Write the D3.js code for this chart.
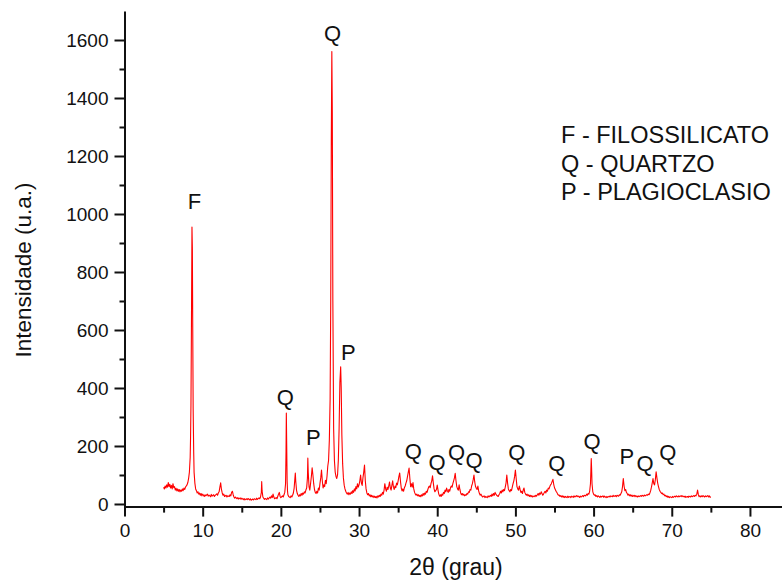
<!DOCTYPE html>
<html>
<head>
<meta charset="utf-8">
<script src="https://cdn.jsdelivr.net/npm/d3@7"></script>
<style>
  body { margin: 0; background: #fff; }
  svg text { font-family: "Liberation Sans", Arial, sans-serif; fill: #111; }
</style>
</head>
<body>
<div id="chart"></div>
<script>
// XRD scan: [2theta (deg), intensity (u.a.)]
var scan = [
  [5.0,58],[5.1,52],[5.2,62],[5.3,55],[5.4,66],[5.5,58],[5.6,74],[5.7,60],[5.8,68],[5.9,55],[6.0,64],[6.1,52],[6.2,70],[6.3,56],[6.4,60],
  [6.5,48],[6.6,54],[6.7,45],[6.8,52],[6.9,44],[7.0,50],[7.1,42],[7.2,48],[7.3,44],[7.4,52],[7.5,46],[7.6,55],[7.7,50],[7.8,58],[7.9,62],
  [8.0,66],[8.1,74],[8.2,88],[8.3,110],[8.4,160],[8.45,230],[8.5,340],[8.55,560],[8.6,800],[8.63,955],[8.68,880],[8.73,600],[8.78,330],[8.85,180],[8.9,110],
  [9.0,72],[9.1,52],[9.2,46],[9.3,38],[9.4,42],[9.5,34],[9.6,38],[9.7,30],[9.8,36],[9.9,28],[10.0,34],[10.2,26],[10.3,32],[10.4,28],[10.6,34],
  [10.7,27],[10.8,31],[11.0,25],[11.1,33],[11.2,27],[11.4,32],[11.5,26],[11.6,30],[11.8,35],[11.9,30],[12.0,38],[12.1,42],[12.2,58],[12.3,73],[12.4,50],
  [12.5,38],[12.6,30],[12.7,34],[12.8,26],[13.0,30],[13.1,24],[13.2,28],[13.4,26],[13.5,32],[13.6,28],[13.7,40],[13.8,44],[13.9,32],[14.0,24],[14.1,20],
  [14.2,24],[14.4,18],[14.5,22],[14.6,17],[14.8,21],[14.9,16],[15.0,20],[15.2,15],[15.3,19],[15.4,14],[15.6,18],[15.7,15],[15.8,19],[16.0,14],[16.1,18],
  [16.2,13],[16.4,17],[16.5,14],[16.6,18],[16.8,15],[16.9,20],[17.0,16],[17.2,21],[17.3,18],[17.4,24],[17.5,40],[17.55,77],[17.6,45],[17.7,24],[17.8,20],
  [17.9,16],[18.0,19],[18.2,15],[18.3,21],[18.4,17],[18.6,24],[18.7,20],[18.8,28],[18.9,22],[19.0,34],[19.1,24],[19.2,18],[19.4,22],[19.5,18],[19.6,26],
  [19.7,34],[19.8,40],[19.9,26],[20.0,22],[20.2,28],[20.3,24],[20.4,32],[20.5,40],[20.6,70],[20.66,180],[20.7,314],[20.74,220],[20.8,80],[20.85,45],[20.9,32],
  [21.0,26],[21.2,22],[21.3,28],[21.4,24],[21.5,30],[21.6,38],[21.7,55],[21.8,90],[21.85,107],[21.9,80],[22.0,48],[22.1,36],[22.2,30],[22.3,26],[22.4,32],
  [22.5,28],[22.6,36],[22.7,30],[22.8,38],[22.9,34],[23.0,42],[23.1,38],[23.2,48],[23.3,55],[23.4,90],[23.45,158],[23.5,110],[23.6,60],[23.7,48],[23.8,70],
  [23.9,95],[24.0,125],[24.1,100],[24.2,70],[24.3,50],[24.4,40],[24.5,36],[24.6,44],[24.7,38],[24.8,55],[24.9,48],[25.0,70],[25.1,90],[25.2,117],[25.3,80],
  [25.4,55],[25.5,66],[25.6,60],[25.7,82],[25.8,70],[25.9,95],[26.0,130],[26.1,150],[26.2,220],[26.3,360],[26.38,700],[26.45,1250],[26.52,1560],[26.58,1350],[26.65,700],
  [26.75,260],[26.85,150],[26.95,110],[27.05,95],[27.15,88],[27.25,100],[27.35,150],[27.45,260],[27.55,420],[27.65,473],[27.72,400],[27.8,240],[27.9,140],[28.0,90],[28.1,65],
  [28.2,52],[28.3,44],[28.4,38],[28.5,34],[28.6,40],[28.7,32],[28.8,38],[28.9,34],[29.0,42],[29.1,36],[29.2,46],[29.3,40],[29.4,52],[29.5,45],[29.6,60],
  [29.7,52],[29.8,70],[29.9,58],[30.0,66],[30.1,80],[30.2,100],[30.3,72],[30.4,64],[30.5,90],[30.6,110],[30.7,134],[30.8,80],[30.9,52],[31.0,38],[31.1,32],
  [31.2,36],[31.3,28],[31.4,32],[31.5,25],[31.6,30],[31.7,24],[31.8,28],[31.9,22],[32.0,27],[32.1,22],[32.2,26],[32.3,21],[32.4,28],[32.5,24],[32.6,30],
  [32.7,26],[32.8,34],[32.9,30],[33.0,40],[33.1,34],[33.2,48],[33.3,70],[33.4,52],[33.5,44],[33.6,58],[33.7,50],[33.8,62],[33.9,76],[34.0,55],[34.1,48],
  [34.2,64],[34.3,80],[34.4,58],[34.5,50],[34.6,62],[34.7,56],[34.8,72],[34.9,66],[35.0,80],[35.1,95],[35.2,107],[35.3,78],[35.4,55],[35.5,45],[35.6,52],
  [35.7,44],[35.8,56],[35.9,62],[36.0,72],[36.1,80],[36.2,95],[36.3,110],[36.4,124],[36.5,88],[36.6,60],[36.7,70],[36.8,58],[36.9,74],[37.0,52],[37.1,40],
  [37.2,34],[37.3,30],[37.4,34],[37.5,28],[37.6,32],[37.7,26],[37.8,30],[37.9,25],[38.0,32],[38.1,28],[38.2,36],[38.3,30],[38.4,38],[38.5,34],[38.6,44],
  [38.7,40],[38.8,50],[38.9,58],[39.0,62],[39.1,56],[39.2,70],[39.3,80],[39.4,97],[39.5,72],[39.6,52],[39.7,42],[39.8,46],[39.9,50],[40.0,65],[40.1,48],
  [40.2,34],[40.3,27],[40.4,32],[40.5,26],[40.6,34],[40.7,30],[40.8,40],[40.9,36],[41.0,48],[41.1,42],[41.2,55],[41.3,46],[41.4,40],[41.5,50],[41.6,44],
  [41.7,56],[41.8,62],[41.9,58],[42.0,70],[42.1,80],[42.2,90],[42.3,106],[42.4,80],[42.5,60],[42.6,52],[42.7,48],[42.8,66],[42.9,50],[43.0,38],[43.1,32],
  [43.2,36],[43.3,30],[43.4,34],[43.5,28],[43.6,32],[43.7,30],[43.8,36],[43.9,34],[44.0,42],[44.1,40],[44.2,50],[44.3,48],[44.4,62],[44.5,70],[44.6,84],
  [44.7,100],[44.8,76],[44.9,60],[45.0,54],[45.1,50],[45.2,62],[45.3,45],[45.4,36],[45.5,30],[45.6,34],[45.7,28],[45.8,24],[46.0,28],[46.1,22],[46.2,26],
  [46.4,22],[46.5,28],[46.6,24],[46.8,30],[46.9,26],[47.0,34],[47.1,28],[47.2,36],[47.3,30],[47.4,40],[47.5,34],[47.6,30],[47.8,26],[47.9,32],[48.0,36],
  [48.1,44],[48.2,38],[48.3,48],[48.4,42],[48.5,50],[48.6,46],[48.7,58],[48.8,72],[48.9,100],[49.0,72],[49.1,52],[49.2,46],[49.3,42],[49.4,50],[49.5,46],
  [49.6,58],[49.7,70],[49.8,80],[49.9,95],[50.0,117],[50.1,88],[50.2,60],[50.3,52],[50.4,48],[50.5,62],[50.6,50],[50.7,40],[50.8,44],[50.9,36],[51.0,48],
  [51.1,55],[51.2,40],[51.3,34],[51.4,30],[51.5,34],[51.6,28],[51.7,32],[51.8,26],[51.9,30],[52.0,25],[52.1,29],[52.2,24],[52.4,28],[52.5,25],[52.6,30],
  [52.7,27],[52.8,32],[52.9,36],[53.0,30],[53.1,38],[53.2,34],[53.3,42],[53.4,36],[53.5,30],[53.6,34],[53.7,40],[53.8,44],[53.9,38],[54.0,48],[54.1,44],
  [54.2,55],[54.3,52],[54.4,60],[54.5,66],[54.6,70],[54.7,78],[54.8,85],[54.9,68],[55.0,56],[55.1,50],[55.2,44],[55.3,40],[55.4,34],[55.5,30],[55.6,31],
  [55.7,26],[55.8,29],[55.9,24],[56.0,28],[56.1,23],[56.2,27],[56.3,22],[56.4,26],[56.6,22],[56.7,27],[56.8,23],[57.0,26],[57.1,22],[57.2,27],[57.4,23],
  [57.5,28],[57.6,24],[57.8,29],[57.9,25],[58.0,28],[58.2,23],[58.3,27],[58.4,24],[58.6,29],[58.7,25],[58.8,30],[59.0,28],[59.1,34],[59.2,30],[59.3,36],
  [59.4,34],[59.5,44],[59.6,70],[59.65,110],[59.7,157],[59.75,120],[59.8,70],[59.9,42],[60.0,34],[60.1,30],[60.2,32],[60.3,26],[60.4,29],[60.5,24],[60.6,28],
  [60.8,23],[60.9,27],[61.0,24],[61.2,28],[61.3,23],[61.4,27],[61.6,22],[61.7,26],[61.8,23],[62.0,27],[62.1,24],[62.2,28],[62.4,25],[62.5,30],[62.6,26],
  [62.8,29],[62.9,25],[63.0,30],[63.2,27],[63.3,32],[63.4,30],[63.5,36],[63.6,42],[63.7,60],[63.8,88],[63.9,62],[64.0,46],[64.1,50],[64.2,40],[64.3,36],
  [64.4,30],[64.5,34],[64.6,28],[64.7,32],[64.8,27],[64.9,31],[65.0,26],[65.2,30],[65.3,25],[65.4,29],[65.6,24],[65.7,28],[65.8,25],[66.0,29],[66.1,26],
  [66.2,30],[66.4,27],[66.5,31],[66.6,28],[66.8,32],[66.9,30],[67.0,34],[67.1,32],[67.2,38],[67.3,46],[67.4,58],[67.5,72],[67.6,88],[67.7,70],[67.8,66],
  [67.9,84],[68.0,111],[68.1,90],[68.2,72],[68.3,60],[68.4,50],[68.5,44],[68.6,40],[68.7,36],[68.8,38],[68.9,32],[69.0,34],[69.1,28],[69.2,30],[69.3,25],
  [69.4,28],[69.5,23],[69.6,26],[69.7,22],[69.8,25],[70.0,22],[70.1,26],[70.2,23],[70.4,27],[70.5,24],[70.6,28],[70.8,24],[70.9,28],[71.0,25],[71.2,29],
  [71.3,25],[71.4,28],[71.6,24],[71.7,27],[71.8,23],[72.0,26],[72.1,23],[72.2,27],[72.4,24],[72.5,28],[72.6,25],[72.8,29],[72.9,26],[73.0,30],[73.1,28],
  [73.2,34],[73.3,48],[73.4,32],[73.5,25],[73.6,28],[73.7,24],[73.8,28],[73.9,25],[74.0,29],[74.2,24],[74.3,28],[74.4,25],[74.6,29],[74.7,24],[74.8,28],
  [74.9,23],[75.0,25]
];

// phase labels over the peaks (anchor in data units)
var labelText = ["F", "Q", "Q", "P", "P", "Q", "Q", "Q", "Q", "Q", "Q", "Q", "P", "Q", "Q"];
var labelAngle = [8.95, 26.62, 20.56, 24.14, 28.62, 36.93, 39.99, 42.48, 44.72, 50.19, 55.31, 59.81, 64.26, 66.60, 69.48];
var labelIntensity = [1044, 1624, 370, 232, 525, 183, 144, 178, 152, 178, 140, 218, 166, 140, 180];

var legendLines = ["F - FILOSSILICATO", "Q - QUARTZO", "P - PLAGIOCLASIO"];

var xTicks = [0, 10, 20, 30, 40, 50, 60, 70, 80];
var xMinorTicks = [5, 15, 25, 35, 45, 55, 65, 75];
var yTicks = [0, 200, 400, 600, 800, 1000, 1200, 1400, 1600];
var yMinorTicks = [100, 300, 500, 700, 900, 1100, 1300, 1500];

var width = 782;
var height = 586;

var x = d3.scaleLinear().domain([0, 84.1]).range([124.5, 782]);
var y = d3.scaleLinear().domain([-9, 1700]).range([506.6, 11]);

var svg = d3.select("#chart").append("svg")
  .attr("width", width)
  .attr("height", height);

// scan line
var line = d3.line()
  .x(function (d) { return x(d[0]); })
  .y(function (d) { return y(d[1]); });

svg.append("path")
  .datum(scan)
  .attr("fill", "none")
  .attr("stroke", "#ff0000")
  .attr("stroke-width", 1.1)
  .attr("stroke-linejoin", "round")
  .attr("d", line);

// axes
var xAxisY = y.range()[0];
var yAxisX = x.range()[0];

svg.append("g")
  .attr("class", "x-minor")
  .attr("transform", "translate(0," + xAxisY + ")")
  .call(d3.axisBottom(x).tickValues(xMinorTicks).tickSize(6).tickFormat(""));

svg.append("g")
  .attr("class", "x-axis")
  .attr("transform", "translate(0," + xAxisY + ")")
  .call(d3.axisBottom(x).tickValues(xTicks).tickSize(10).tickSizeOuter(0).tickPadding(7).tickFormat(d3.format("d")));

svg.append("g")
  .attr("class", "y-minor")
  .attr("transform", "translate(" + yAxisX + ",0)")
  .call(d3.axisLeft(y).tickValues(yMinorTicks).tickSize(5).tickFormat(""));

svg.append("g")
  .attr("class", "y-axis")
  .attr("transform", "translate(" + yAxisX + ",0)")
  .call(d3.axisLeft(y).tickValues(yTicks).tickSize(10).tickSizeOuter(0).tickPadding(6).tickFormat(d3.format("d")));

svg.selectAll(".x-minor .domain, .y-minor .domain").remove();
svg.selectAll(".domain, .tick line")
  .attr("stroke", "#111")
  .attr("stroke-width", 2);
svg.selectAll(".tick text")
  .attr("font-size", 19)
  .attr("fill", "#222")
  .style("font-family", "'Liberation Sans', Arial, sans-serif");

// axis titles
svg.append("text")
  .attr("x", 456)
  .attr("y", 575)
  .attr("text-anchor", "middle")
  .attr("font-size", 23)
  .text("2θ (grau)");

svg.append("text")
  .attr("transform", "translate(31,270) rotate(-90)")
  .attr("text-anchor", "middle")
  .attr("font-size", 22.5)
  .text("Intensidade (u.a.)");

// peak labels
svg.selectAll(".peak-label")
  .data(labelText)
  .enter().append("text")
  .attr("class", "peak-label")
  .attr("x", function (d, i) { return x(labelAngle[i]); })
  .attr("y", function (d, i) { return y(labelIntensity[i]); })
  .attr("dy", "0.36em")
  .attr("text-anchor", "middle")
  .attr("font-size", 22)
  .text(function (d) { return d; });

// legend
svg.selectAll(".legend-line")
  .data(legendLines)
  .enter().append("text")
  .attr("class", "legend-line")
  .attr("x", 561)
  .attr("y", function (d, i) { return 135 + i * 28.5; })
  .attr("dy", "0.36em")
  .attr("font-size", 23.5)
  .text(function (d) { return d; });
</script>
</body>
</html>
